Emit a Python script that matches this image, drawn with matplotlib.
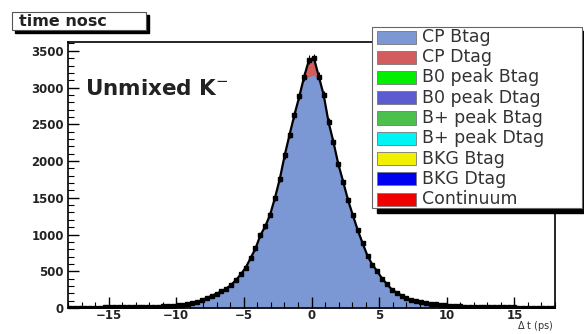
import numpy as np
import matplotlib.pyplot as plt
from matplotlib.patches import Rectangle

plt.rcParams['font.family'] = ['DejaVu Sans']

# Delta t binning (ps): 100 bins from -18 to 18
bin_edges = np.linspace(-18.0, 18.0, 101)

# events per bin, negative side then positive side
counts_neg = [4, 4, 4, 5, 5, 6, 6, 7, 7, 8, 8, 9, 10, 11, 12, 13, 15, 17,
              19, 22, 26, 30, 36, 45, 56, 66, 82, 105, 138, 165, 195, 225,
              265, 315, 380, 460, 550, 680, 810, 990, 1110, 1270, 1500, 1760,
              2080, 2360, 2630, 2880, 3150, 3380]
counts_pos = [3400, 3150, 2900, 2530, 2260, 1960, 1720, 1470, 1260, 1060,
              880, 710, 590, 500, 400, 325, 250, 210, 170, 140, 108, 90, 75,
              64, 56, 48, 41, 36, 30, 25, 22, 19, 17, 15, 13, 12, 11, 10, 9,
              8, 8, 7, 6, 6, 5, 5, 4, 4, 4, 3]

# CP Dtag part, only shows up right at the peak
dtag_neg = [0] * 48 + [50, 230]
dtag_pos = [230, 50] + [0] * 48

legend_labels = ['CP Btag', 'CP Dtag', 'B0 peak Btag', 'B0 peak Dtag',
                 'B+ peak Btag', 'B+ peak Dtag', 'BKG Btag', 'BKG Dtag',
                 'Continuum']
legend_colors = ['#7b98d4', '#d35c5c', '#00f000', '#5c5cd0', '#4cc04c',
                 '#00f4f4', '#f0f000', '#0000f0', '#f00000']

counts = np.array(counts_neg + counts_pos, dtype=float)
cp_dtag = np.array(dtag_neg + dtag_pos, dtype=float)
cp_btag = counts - cp_dtag
centers = 0.5 * (bin_edges[:-1] + bin_edges[1:])

W, H = 584, 334
fig = plt.figure(figsize=(W / 100, H / 100), dpi=100)


def fx(px):
    return px / W


def fy(py):
    return 1 - py / H


ax = fig.add_axes([fx(68), fy(308), fx(555) - fx(68), fy(42) - fy(308)])

# filled components: Dtag stacked on top of Btag
ax.fill_between(centers, 0, counts, color=legend_colors[1], lw=0)
ax.fill_between(centers, 0, cp_btag, color=legend_colors[0], lw=0)

# data points with errors and the total curve
ax.plot(centers, counts, color='black', lw=1.6)
ax.errorbar(centers, counts, yerr=np.sqrt(counts), fmt='s', ms=2.2,
            color='black', elinewidth=0.8, capsize=0)

ax.set_xlim(-18, 18)
ax.set_ylim(0, 3620)
ax.set_xticks([-15, -10, -5, 0, 5, 10, 15])
ax.set_xticks(np.arange(-18, 19, 1), minor=True)
ax.set_yticks(np.arange(0, 3501, 500))
ax.set_yticks(np.arange(0, 3601, 100), minor=True)
ax.tick_params(which='both', direction='in', top=False, right=False,
               labelsize=8.5, labelcolor='#222222')
ax.tick_params(which='major', length=8, width=1.0)
ax.tick_params(which='minor', length=4, width=0.8)
ax.tick_params(axis='x', pad=1)
ax.tick_params(axis='y', pad=3)
for lab in ax.get_xticklabels() + ax.get_yticklabels():
    lab.set_fontweight('bold')
for s in ax.spines.values():
    s.set_linewidth(1.2)

fig.text(fx(85), fy(89), 'Unmixed K$^{-}$', fontsize=15.5, fontweight='bold',
         va='center', color='#222222')
fig.text(fx(554), fy(333), '$\\Delta$ t (ps)', ha='right', va='bottom',
         fontsize=7, color='#333333')

# title box with shadow
fig.patches.append(Rectangle((fx(15), fy(33)), fx(146) - fx(12),
                             fy(12) - fy(30), transform=fig.transFigure,
                             color='black'))
fig.patches.append(Rectangle((fx(12), fy(30)), fx(146) - fx(12),
                             fy(12) - fy(30), transform=fig.transFigure,
                             facecolor='white', edgecolor='#555555', lw=0.8))
fig.text(fx(19), fy(21), 'time nosc', fontsize=11.5, fontweight='bold',
         va='center', color='#222222')

# legend box with shadow
fig.patches.append(Rectangle((fx(377), fy(213)), fx(587) - fx(377),
                             fy(31) - fy(213), transform=fig.transFigure,
                             color='black'))
fig.patches.append(Rectangle((fx(372), fy(208)), fx(582) - fx(372),
                             fy(27) - fy(208), transform=fig.transFigure,
                             facecolor='white', edgecolor='#666666', lw=0.8))
for i, (lab, col) in enumerate(zip(legend_labels, legend_colors)):
    yc = 37 + 20.25 * i
    fig.patches.append(Rectangle((fx(377), fy(yc + 6.5)), fx(416) - fx(377),
                                 fy(yc - 6.5) - fy(yc + 6.5),
                                 transform=fig.transFigure, facecolor=col,
                                 edgecolor='#777777', lw=0.6))
    fig.text(fx(422), fy(yc), lab, fontsize=12.5, va='center',
             color='#333333')

fig.savefig('out.png', dpi=100)
